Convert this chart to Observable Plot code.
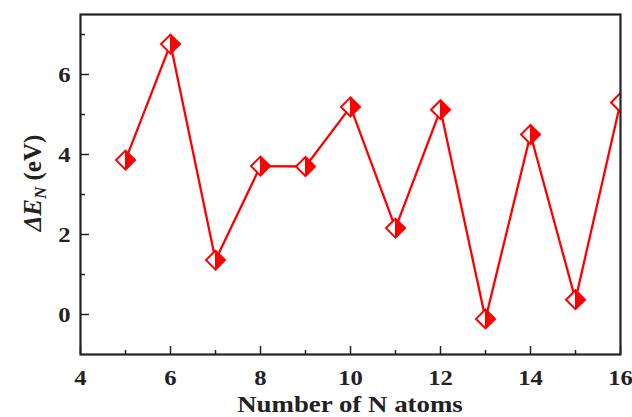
<!DOCTYPE html>
<html><head><meta charset="utf-8">
<script src="https://cdn.jsdelivr.net/npm/d3@7"></script>
<script src="https://cdn.jsdelivr.net/npm/@observablehq/plot@0.6"></script>
<style>
body{margin:0;background:#fff}
svg{display:block}
svg text{font-family:"Liberation Serif","DejaVu Serif",serif !important;}
</style>
</head><body><div id="chart"></div>
<script>
const atoms = [5, 6, 7, 8, 9, 10, 11, 12, 13, 14, 15, 16];
const deltaE = [3.86, 6.76, 1.36, 3.71, 3.70, 5.19, 2.16, 5.12, -0.11, 4.50, 0.37, 5.30];
const xMajor = [4, 6, 8, 10, 12, 14, 16];
const xMinor = [5, 7, 9, 11, 13, 15];
const yMajor = [0, 2, 4, 6];
const yMinor = [1, 3, 5, 7];
const xTitle = "Number of N atoms";
const yTitleMain = "ΔE";
const yTitleSub = "N";
const yTitleUnit = " (eV)";

const data = atoms.map((n, i) => ({n, e: deltaE[i]}));
const RED = "#ff0000";
const INK = "#222";
const FONT = "'Liberation Serif', 'DejaVu Serif', serif";

const diamondOutline = {draw(ctx, size) {
  const h = Math.sqrt(size / Math.PI);
  ctx.moveTo(0, -h); ctx.lineTo(h, 0); ctx.lineTo(0, h); ctx.lineTo(-h, 0); ctx.closePath();
}};
const diamondRight = {draw(ctx, size) {
  const h = Math.sqrt(size / Math.PI);
  ctx.moveTo(0, -h); ctx.lineTo(h, 0); ctx.lineTo(0, h); ctx.closePath();
}};

const chart = Plot.plot({
  width: 632, height: 417,
  marginLeft: 80, marginRight: 12, marginTop: 14, marginBottom: 63,
  style: {background: "#fff", fontFamily: FONT},
  x: {domain: [4, 16], axis: null},
  y: {domain: [-1, 7.5], axis: null},
  marks: [
    Plot.line(data, {x: "n", y: "e", stroke: RED, strokeWidth: 2.3, clip: true}),
    Plot.dot(data, {x: "n", y: "e", symbol: diamondOutline, r: 9.5, fill: "#fff", stroke: RED, strokeWidth: 2, clip: true}),
    Plot.dot(data, {x: "n", y: "e", symbol: diamondRight, r: 9.5, fill: RED, stroke: RED, strokeWidth: 1, clip: true}),
    Plot.axisX(xMajor, {anchor: "bottom", tickSize: -8, fill: "none", stroke: INK, strokeWidth: 1.5, label: null}),
    Plot.axisX(xMinor, {anchor: "bottom", tickSize: -4, fill: "none", stroke: INK, strokeWidth: 1.5, label: null}),
    Plot.axisX(xMajor, {anchor: "bottom", tickSize: 0, tickPadding: 15, fill: INK, fontSize: 22, fontWeight: "bold", fontFamily: FONT, label: null}),
    Plot.axisY(yMajor, {anchor: "left", tickSize: -9, fill: "none", stroke: INK, strokeWidth: 1.5, label: null}),
    Plot.axisY(yMinor, {anchor: "left", tickSize: -5, fill: "none", stroke: INK, strokeWidth: 1.5, label: null}),
    Plot.axisY(yMajor, {anchor: "left", tickSize: 0, tickPadding: 10, fill: INK, fontSize: 22, fontWeight: "bold", fontFamily: FONT, label: null}),
    Plot.frame({stroke: INK, strokeWidth: 2.2})
  ]
});

const svg = d3.select(chart);
// widen tick labels slightly to match the reference's stretched type
svg.selectAll("g[aria-label$='tick label'] text")
  .attr("transform", function() { return (this.getAttribute("transform") || "") + " scale(1.12,1)"; });

svg.append("text")
  .attr("transform", "translate(350,411.5) scale(1.12,1)")
  .attr("text-anchor", "middle")
  .attr("font-family", FONT).attr("font-weight", "bold").attr("font-size", 24)
  .attr("fill", INK)
  .text(xTitle);

const yt = svg.append("text")
  .attr("transform", "translate(41,183) rotate(-90)")
  .attr("text-anchor", "middle")
  .attr("font-family", FONT).attr("font-weight", "bold").attr("font-size", 25)
  .attr("fill", INK);
yt.append("tspan").attr("font-style", "italic").text(yTitleMain);
yt.append("tspan").attr("font-style", "italic").attr("font-size", 17).attr("dy", 5).text(yTitleSub);
yt.append("tspan").attr("dy", -5).text(yTitleUnit);

document.getElementById("chart").appendChild(chart);
</script>
</body></html>
